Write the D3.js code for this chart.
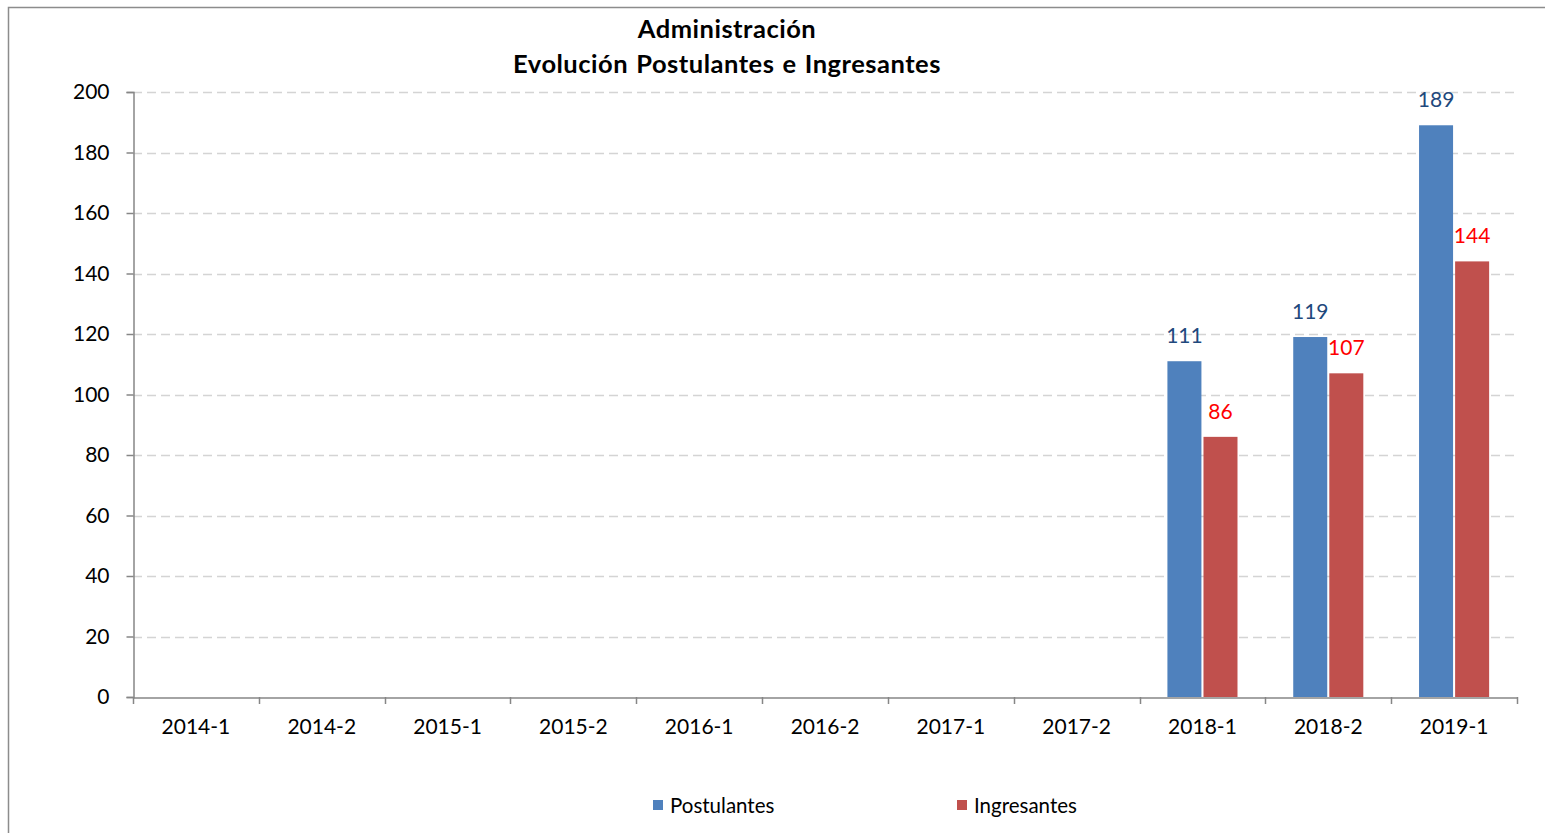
<!DOCTYPE html>
<html>
<head>
<meta charset="utf-8">
<script src="https://cdn.jsdelivr.net/npm/d3@7"></script>
<style>
  html, body { margin: 0; padding: 0; background: #fff; }
  svg { display: block; font-family: Lato, "Open Sans", sans-serif; }
</style>
</head>
<body>
<svg id="chart" width="1545" height="833"></svg>
<script>
const categories = ["2014-1","2014-2","2015-1","2015-2","2016-1","2016-2","2017-1","2017-2","2018-1","2018-2","2019-1"];
const postulantes = [null,null,null,null,null,null,null,null,111,119,189];
const ingresantes = [null,null,null,null,null,null,null,null,86,107,144];
const yTicks = [0,20,40,60,80,100,120,140,160,180,200];
const seriesNames = ["Postulantes","Ingresantes"];
const titleLines = ["Administración","Evolución Postulantes e Ingresantes"];

const svg = d3.select("#chart");
const W = 1545, H = 833;
const m = {left: 133, right: 1517, top: 92, bottom: 697};

// outer border
svg.append("rect").attr("x", 8.5).attr("y", 7.5).attr("width", W + 10).attr("height", H + 10)
  .attr("fill", "#fff").attr("stroke", "#8c8c8c").attr("stroke-width", 1.5);

const x = d3.scaleBand().domain(categories).range([m.left, m.right]).paddingInner(0).paddingOuter(0);
const y = d3.scaleLinear().domain([0, 200]).range([m.bottom, m.top]);

// gridlines
svg.append("g").selectAll("line").data(yTicks.filter(d => d > 0)).join("line")
  .attr("x1", m.left).attr("x2", m.right)
  .attr("y1", d => Math.round(y(d)) + 0.5).attr("y2", d => Math.round(y(d)) + 0.5)
  .attr("stroke", "#d4d4d4").attr("stroke-width", 1.4).attr("stroke-dasharray", "9,5");

// bars
const series = [
  {name: seriesNames[0], values: postulantes, color: "#4F81BD", label: "#1F497D"},
  {name: seriesNames[1], values: ingresantes, color: "#C0504D", label: "#FF0000"}
];
const bw = x.bandwidth();
const groupW = bw * 0.557;
const inner = d3.scaleBand().domain(seriesNames)
  .range([(bw - groupW) / 2, (bw + groupW) / 2]).paddingInner(0.057).paddingOuter(0);

series.forEach(s => {
  const data = categories.map((c, i) => ({c, v: s.values[i]})).filter(d => d.v != null);
  const g = svg.append("g");
  g.selectAll("rect").data(data).join("rect")
    .attr("x", d => x(d.c) + inner(s.name))
    .attr("y", d => y(d.v))
    .attr("width", inner.bandwidth())
    .attr("height", d => y(0) - y(d.v))
    .attr("fill", s.color);
  g.selectAll("text").data(data).join("text")
    .attr("x", d => x(d.c) + inner(s.name) + inner.bandwidth() / 2)
    .attr("y", d => y(d.v) - 18)
    .attr("text-anchor", "middle")
    .attr("font-size", 21)
    .attr("fill", s.label)
    .text(d => d.v);
});

// y axis
const yAxis = d3.axisLeft(y).tickValues(yTicks).tickSize(7).tickPadding(17);
const gy = svg.append("g").attr("transform", `translate(${m.left + 0.5},0)`).call(yAxis);
gy.select(".domain").attr("stroke", "#868686").attr("stroke-width", 1.5);
gy.selectAll(".tick line").attr("stroke", "#868686").attr("stroke-width", 1.5);
gy.selectAll(".tick text").attr("font-size", 21).attr("fill", "#000").attr("font-family", "Lato, sans-serif");

// x axis
const xAxis = d3.axisBottom(x).tickSize(0).tickPadding(22);
const gx = svg.append("g").attr("transform", `translate(0,${m.bottom + 0.5})`).call(xAxis);
gx.select(".domain").attr("stroke", "#868686").attr("stroke-width", 1.5);
gx.selectAll(".tick text").attr("font-size", 21).attr("fill", "#000").attr("font-family", "Lato, sans-serif");
// category boundary ticks
const bounds = categories.map(c => x(c)).concat([x.range()[1]]);
svg.append("g").selectAll("line").data(bounds).join("line")
  .attr("x1", d => Math.round(d) + 0.5).attr("x2", d => Math.round(d) + 0.5)
  .attr("y1", m.bottom).attr("y2", m.bottom + 7)
  .attr("stroke", "#868686").attr("stroke-width", 1.5);

// title
svg.append("g").selectAll("text").data(titleLines).join("text")
  .attr("x", 727).attr("y", (d, i) => 38 + i * 35)
  .attr("text-anchor", "middle")
  .attr("font-size", 25.5).attr("font-weight", "bold").attr("fill", "#000")
  .attr("letter-spacing", 0.5).attr("word-spacing", 1.5)
  .text(d => d);

// legend
const legendX = [653, 957];
const lg = svg.append("g");
series.forEach((s, i) => {
  lg.append("rect").attr("x", legendX[i]).attr("y", 800).attr("width", 10).attr("height", 10).attr("fill", s.color);
  lg.append("text").attr("x", legendX[i] + 17).attr("y", 813).attr("font-size", 20.5).attr("fill", "#000").text(s.name);
});
</script>
</body>
</html>
